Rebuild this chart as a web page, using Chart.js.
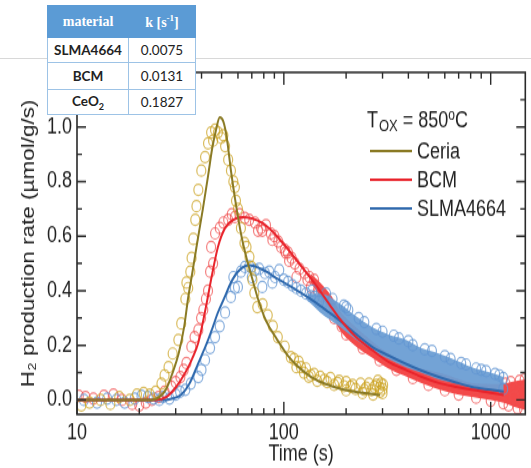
<!DOCTYPE html>
<html>
<head>
<meta charset="utf-8">
<script src="https://cdn.jsdelivr.net/npm/chart.js@4.4.0/dist/chart.umd.min.js"></script>
<style>
  body { margin: 0; background: #fff; }
  #wrap { position: relative; width: 531px; height: 468px; overflow: hidden; }
  #slideLine { position: absolute; left: 0; top: 58px; width: 531px; height: 1px; background: #d8d8d8; }
  #stretch { position: absolute; left: 0; top: 0; width: 531px; height: 375px; transform: scaleY(1.248); transform-origin: 0 0; }
  #tbl { position: absolute; left: 47px; top: 5px; border-collapse: collapse; background: #fff; }
  #tbl td, #tbl th { border: 1px solid #9dc3e6; text-align: center; padding: 0; }
  #tbl th { background: #5b9bd5; color: #fff; font: bold 14px "Liberation Serif", "DejaVu Serif", serif; height: 31px; border-color: #5b9bd5; }
  #tbl td { font: 13.5px Lato, "Open Sans", sans-serif; color: #222; height: 24px; }
  #tbl td.m { font-weight: bold; }
</style>
</head>
<body>
<div id="wrap">
  <div id="slideLine"></div>
  <div id="stretch"><canvas id="c" width="531" height="375"></canvas></div>
  <table id="tbl">
    <tr><th style="width:80px">material</th><th style="width:66px">k [s<sup style="font-size:9px">-1</sup>]</th></tr>
    <tr><td class="m">SLMA4664</td><td>0.0075</td></tr>
    <tr><td class="m" style="height:26px">BCM</td><td>0.0131</td></tr>
    <tr><td class="m">CeO<sub style="font-size:9px">2</sub></td><td>0.1827</td></tr>
  </table>
</div>
<script>
// fitted curves (time s, rate umol/g/s)
const ceriaFitT = [10, 23, 25, 27, 29, 31, 33, 34.4, 36, 38, 40.6, 43, 45, 47, 49, 51, 53, 55.5, 58, 62.4, 66, 70, 75, 82, 93, 105, 116, 135, 157, 190, 228, 292];
const ceriaFitV = [0, 0, 0.01, 0.04, 0.1, 0.17, 0.27, 0.37, 0.46, 0.57, 0.70, 0.82, 0.92, 0.99, 1.035, 1.02, 0.96, 0.84, 0.74, 0.60, 0.52, 0.45, 0.37, 0.29, 0.22, 0.16, 0.125, 0.085, 0.06, 0.04, 0.028, 0.018];
const bcmFitT = [10, 24, 27, 30, 33.4, 36, 38.6, 42, 45, 48, 52, 57, 63, 70, 78.7, 90, 100, 115, 140, 166, 185, 220, 267, 320, 389, 460, 561, 680, 809, 1000, 1156];
const bcmFitV = [0, 0, 0.01, 0.045, 0.1, 0.15, 0.21, 0.34, 0.46, 0.56, 0.63, 0.66, 0.67, 0.665, 0.648, 0.61, 0.57, 0.513, 0.43, 0.35, 0.30, 0.235, 0.183, 0.14, 0.11, 0.085, 0.062, 0.048, 0.037, 0.026, 0.018];
const slmaFitT = [10, 27, 29, 32, 35, 38.6, 42, 45, 48, 52, 55.5, 60, 68, 80, 95, 115, 137, 166, 185, 220, 267, 320, 389, 460, 561, 680, 809, 1000, 1156];
const slmaFitV = [0, 0, 0.005, 0.02, 0.06, 0.135, 0.2, 0.26, 0.32, 0.38, 0.43, 0.47, 0.494, 0.475, 0.44, 0.403, 0.366, 0.32, 0.293, 0.245, 0.195, 0.163, 0.132, 0.108, 0.084, 0.064, 0.048, 0.037, 0.03];

// measured points [t, rate]
const ceriaPts = [[10.5,-0.02],[11.5,-0.01],[13,0.0],[14.5,-0.015],[16,0.01],[18,0.0],[19.5,0.02],[21,0.025],[22.5,0.02],[24,0.03],
  [25.6,0.06],[26.5,0.09],[27.7,0.12],[29,0.17],[30.9,0.22],[31.9,0.28],[33.4,0.37],[33.8,0.43],[34.5,0.41],[35.3,0.47],[35.8,0.52],[36.5,0.59],[37.3,0.66],[37.8,0.71],[38.6,0.77],[39.9,0.84],[41.6,0.89],[43,0.94],[44.5,0.98],[45.5,0.95],[46.5,0.99],[48,0.98],[49.8,0.96],[51,0.97],[52,0.93],[53.8,0.88],[55.5,0.84],[57,0.80],[58,0.78],[58.7,0.73],[60,0.70],[62,0.63],[64.5,0.575],[66,0.56],[68.2,0.524],[69.7,0.487],[70.5,0.44],[72,0.392],[74.4,0.34],[79,0.35],[83.6,0.31],[88.5,0.27],[93.5,0.23],[101,0.195],[108,0.157],[112,0.15],[115,0.12],[118,0.14],[121,0.12],[125,0.10],[128,0.115],[132,0.085],[135,0.09],[140,0.095],[145,0.07],[150,0.085],[157,0.073],[162,0.065],[168,0.08],[175,0.055],[182,0.062],[185,0.07],[195,0.05],[200,0.065],[200,0.035],[210,0.048],[215,0.055],[222,0.04],[235,0.06],[240,0.025],[245,0.037],[250,0.045],[258,0.06],[265,0.035],[270,0.02],[274,0.048],[280,0.055],[285,0.07],[290,0.045],[292,0.03],[295,0.06],[300,0.04],[300,0.025],[302,0.055]];
const bcmPts = [[10.2,0.015],[11,0.01],[12,0.005],[13.5,0.015],[15,0.02],[16.5,0.0],[18.5,-0.015],[20,-0.02],[21.5,-0.01],[23,0.0],
  [24.8,0.01],[26.5,0.03],[28.6,0.048],[30,0.065],[31.6,0.084],[32.8,0.11],[33.8,0.135],[35.7,0.195],[37,0.23],[38.6,0.256],[39.8,0.30],[40.8,0.33],[42,0.37],[43,0.40],[44,0.47],[44.5,0.56],[45.5,0.5],[46.5,0.61],[49,0.63],[51,0.65],[53.8,0.66],[56,0.68],[58,0.67],[61,0.68],[64.8,0.667],[68,0.66],[72.5,0.65],[75,0.62],[77.6,0.63],[78.7,0.62],[82,0.64],[86.5,0.61],[88,0.586],[90,0.6],[94,0.58],[97,0.56],[101,0.55],[102,0.54],[104.7,0.54],[106,0.51],[109,0.52],[113,0.50],[115,0.45],[119,0.48],[126,0.465],[130,0.44],[133,0.45],[135,0.414],[140,0.44],[146,0.40],[153,0.38],
  [160,0.36],[168,0.34],[175,0.30],[190,0.27],[200,0.24],[240,0.19],[290,0.145],[350,0.11],[420,0.08],[500,0.055],[600,0.035],[700,0.02],[850,0.008],[1000,-0.003],[1150,-0.012],[1180,0.06],[1220,-0.02],[1250,0.065],[1300,0.01],[1350,-0.03],[1380,0.07],[1420,0.03],[1450,-0.035],[1460,0.075]];
const slmaPts = [[10.8,0.0],[12.5,-0.01],[14,0.005],[15.5,0.0],[17,-0.01],[19,0.005],[20.5,0.015],[22,0.01],[23.5,0.005],[25,0.0],
  [26,0.01],[28,0.005],[30,0.02],[31.5,0.03],[33.4,0.037],[35.5,0.06],[38.6,0.084],[40,0.11],[41.6,0.146],[44,0.19],[46.5,0.23],[49,0.27],[52,0.32],[55.5,0.377],[57,0.45],[58,0.41],[60,0.414],[62,0.47],[64.8,0.487],[68,0.49],[70,0.45],[72.5,0.476],[76,0.48],[78.7,0.414],[81,0.465],[85,0.47],[88,0.43],[90.6,0.45],[95,0.476],[100,0.44],[104.7,0.432],[110,0.42],[115,0.41],[121,0.40],[128,0.39],[135,0.38],[137,0.40],[141,0.377],[148,0.36],
  [160,0.39],[172,0.37],[195,0.345],[200,0.34],[205,0.33],[230,0.30],[245,0.285],[280,0.26],[300,0.25],[340,0.235],[360,0.225],[400,0.215],[420,0.20],[480,0.185],[520,0.18],[600,0.16],[640,0.15],[720,0.135],[760,0.13],[850,0.115],[900,0.11],[950,0.105],[1050,0.095],[1100,0.09],[1150,0.08],[1150,0.04]];

// dense clouds of points at long times (lower / upper edge)
const bcmBandT = [135, 150, 170, 185, 220, 267, 320, 389, 460, 561, 680, 809, 1000, 1156, 1300, 1470];
const bcmBandLo = [0.43, 0.38, 0.32, 0.26, 0.2, 0.155, 0.115, 0.086, 0.062, 0.038, 0.021, 0.011, 0.0, -0.011, -0.025, -0.037];
const bcmBandHi = [0.46, 0.43, 0.38, 0.33, 0.27, 0.215, 0.17, 0.135, 0.115, 0.10, 0.08, 0.062, 0.058, 0.06, 0.068, 0.075];
const slmaBandT = [130, 150, 185, 220, 267, 320, 389, 460, 561, 680, 809, 1000, 1156];
const slmaBandLo = [0.365, 0.32, 0.27, 0.225, 0.18, 0.15, 0.12, 0.10, 0.075, 0.06, 0.045, 0.036, 0.03];
const slmaBandHi = [0.39, 0.39, 0.355, 0.31, 0.267, 0.24, 0.22, 0.19, 0.17, 0.145, 0.12, 0.10, 0.084];

const xMajor = [10, 100, 1000];
const xMinor = [20, 30, 40, 50, 60, 70, 80, 90, 200, 300, 400, 500, 600, 700, 800, 900];
const yMajor = [0, 0.2, 0.4, 0.6, 0.8, 1.0];
const yMinor = [0.1, 0.3, 0.5, 0.7, 0.9, 1.1];
const legendLabels = ['Ceria', 'BCM', 'SLMA4664'];

const lineColors = ['#8a7a24', '#e8232b', '#2f69ad'];
const FONT = '"Liberation Sans", Arial, sans-serif';

const xy = (t, v) => t.map((x, i) => ({ x, y: v[i] }));
const pts = arr => arr.map(([x, y]) => ({ x, y }));

function lineSet(label, t, v, color, order) {
  return { label, data: xy(t, v), borderColor: color, borderWidth: 2, pointRadius: 0, fill: false,
    tension: 0.4, cubicInterpolationMode: 'monotone', order };
}
function ptSet(data, color, order) {
  return { data: pts(data), showLine: false, pointRadius: 4.5, pointBorderWidth: 1.2,
    pointBorderColor: color, pointBackgroundColor: 'rgba(0,0,0,0)', order };
}
function bandSet(t, v, color, fill, order) {
  return { data: xy(t, v), borderWidth: 0, borderColor: 'rgba(0,0,0,0)', pointRadius: 0,
    backgroundColor: color, fill, tension: 0.3, cubicInterpolationMode: 'monotone', order };
}

const datasets = [
  lineSet('Ceria', ceriaFitT, ceriaFitV, lineColors[0], 0),
  lineSet('BCM', bcmFitT, bcmFitV, lineColors[1], 1),
  lineSet('SLMA4664', slmaFitT, slmaFitV, lineColors[2], 2),
  ptSet(ceriaPts, 'rgba(204,164,38,0.75)', 3),
  bandSet(slmaBandT, slmaBandLo, 'rgba(0,0,0,0)', false, 6),
  bandSet(slmaBandT, slmaBandHi, 'rgba(108,158,212,0.95)', { target: 4 }, 5),
  ptSet(slmaPts, 'rgba(96,148,210,0.75)', 4),
  bandSet(bcmBandT, bcmBandLo, 'rgba(0,0,0,0)', false, 9),
  bandSet(bcmBandT, bcmBandHi, 'rgba(242,58,58,0.92)', { target: 7 }, 8),
  ptSet(bcmPts, 'rgba(240,78,78,0.72)', 7)
];

// box, with inward ticks mirrored on all four sides
const frame = {
  id: 'frame',
  afterDatasetsDraw(chart) {
    const { ctx, chartArea: { left, right, top, bottom }, scales: { x, y } } = chart;
    ctx.save();
    ctx.strokeStyle = '#2a2a2a';
    ctx.lineWidth = 1.6;
    ctx.strokeRect(left, top, right - left, bottom - top);
    ctx.lineWidth = 1.4;
    ctx.beginPath();
    yMajor.concat(yMinor).forEach(v => {
      const py = y.getPixelForValue(v);
      const len = yMajor.includes(v) ? 9 : 5;
      ctx.moveTo(left, py); ctx.lineTo(left + len, py);
      ctx.moveTo(right, py); ctx.lineTo(right - len, py);
    });
    xMajor.concat(xMinor).forEach(v => {
      const px = x.getPixelForValue(v);
      const len = xMajor.includes(v) ? 10 : 5;
      ctx.moveTo(px, bottom); ctx.lineTo(px, bottom - len);
      ctx.moveTo(px, top); ctx.lineTo(px, top + len);
    });
    ctx.stroke();
    ctx.restore();
  },
  afterDraw(chart) {
    const { ctx } = chart;
    ctx.save();
    ctx.fillStyle = '#222';
    ctx.textBaseline = 'alphabetic';
    let px = 367;
    const by = 101.5;
    ctx.font = '18px ' + FONT;
    ctx.fillText('T', px, by); px += ctx.measureText('T').width + 1;
    ctx.font = '13px ' + FONT;
    ctx.fillText('OX', px, by + 3.5); px += ctx.measureText('OX').width;
    ctx.font = '18px ' + FONT;
    ctx.fillText(' = 850', px, by); px += ctx.measureText(' = 850').width;
    ctx.font = '12px ' + FONT;
    ctx.fillText('o', px, by - 6); px += ctx.measureText('o').width;
    ctx.font = '18px ' + FONT;
    ctx.fillText('C', px, by);
    legendLabels.forEach((lab, i) => {
      const ly = 121 + i * 23;
      ctx.strokeStyle = lineColors[i];
      ctx.lineWidth = 2;
      ctx.beginPath(); ctx.moveTo(370, ly); ctx.lineTo(412, ly); ctx.stroke();
      ctx.fillText(lab, 417, ly + 6);
    });
    ctx.restore();
  }
};

new Chart(document.getElementById('c'), {
  type: 'line',
  data: { datasets },
  options: {
    responsive: false,
    animation: false,
    devicePixelRatio: 1,
    layout: { padding: { left: 0, right: 4, top: 58, bottom: 0 } },
    plugins: { legend: { display: false }, tooltip: { enabled: false } },
    scales: {
      x: {
        type: 'logarithmic', min: 10, max: 1470,
        afterBuildTicks: s => { s.ticks = xMajor.map(v => ({ value: v })); },
        afterFit: s => { s.height = 43; },
        grid: { display: false, drawTicks: false },
        border: { display: false },
        ticks: { color: '#222', padding: 4, font: { family: FONT, size: 18 }, callback: v => String(v), maxRotation: 0 },
        title: { display: true, text: 'Time (s)', color: '#222', font: { family: FONT, size: 18 }, padding: { top: 0, bottom: 0 } }
      },
      y: {
        type: 'linear', min: -0.053, max: 1.2,
        afterBuildTicks: s => { s.ticks = yMajor.map(v => ({ value: v })); },
        afterFit: s => { s.width = 77; },
        grid: { display: false, drawTicks: false },
        border: { display: false },
        ticks: { color: '#222', padding: 5, font: { family: FONT, size: 18 }, callback: v => v.toFixed(1) },
        title: { display: true, text: 'H\u2082 production rate (\u00b5mol/g/s)', color: '#222', font: { family: FONT, size: 18 }, padding: { top: 18, bottom: 0 } }
      }
    }
  },
  plugins: [frame]
});
</script>
</body>
</html>
